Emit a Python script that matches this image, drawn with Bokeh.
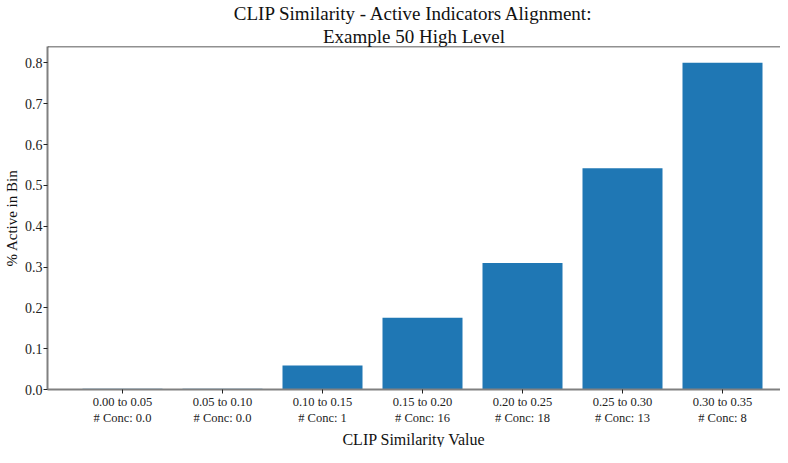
from bokeh.plotting import figure
from bokeh.models import ColumnDataSource, Range1d, FixedTicker, PrintfTickFormatter, Title, Span
from bokeh.embed import file_html
from bokeh.resources import INLINE

# ---- data ----
bin_labels = ["0.00 to 0.05", "0.05 to 0.10", "0.10 to 0.15", "0.15 to 0.20",
              "0.20 to 0.25", "0.25 to 0.30", "0.30 to 0.35"]
conc_counts = ["0.0", "0.0", "1", "16", "18", "13", "8"]
pct_active = [0.002, 0.002, 0.059, 0.176, 0.310, 0.542, 0.800]
y_ticks = [0.0, 0.1, 0.2, 0.3, 0.4, 0.5, 0.6, 0.7, 0.8]

title_line1 = "CLIP Similarity - Active Indicators Alignment:"
title_line2 = "Example 50 High Level"
x_label = "CLIP Similarity Value"
y_label = "% Active in Bin"

FONT = "Liberation Serif"
BAR = "#1f77b4"
Y_MAX = 0.84

xs = list(range(len(bin_labels)))
src = ColumnDataSource(dict(x=xs, top=pct_active))

p = figure(width=780, height=447, output_backend="svg", toolbar_location=None,
           x_range=Range1d(-0.75, 6.58), y_range=Range1d(0, Y_MAX),
           min_border_left=46, min_border_right=0, min_border_top=0, min_border_bottom=0)

p.vbar(x="x", top="top", bottom=0, width=0.8, source=src, color=BAR, line_color=None)

# two centred title lines (added title sits closer to the frame)
p.title.text = title_line1
p.title.align = "center"
p.title.text_font = FONT
p.title.text_font_size = "19px"
p.title.text_font_style = "normal"
p.title.text_color = "#111111"
p.title.standoff = 0
t2 = Title(text=title_line2, align="center", text_font=FONT, text_font_size="19px",
           text_font_style="normal", text_color="#111111", standoff=0)
p.add_layout(t2, "above")

p.xgrid.visible = False
p.ygrid.visible = False
p.outline_line_color = None
top_spine = Span(location=Y_MAX, dimension="width", line_color="#222222", line_width=1.3)
p.add_layout(top_spine)

# x axis
xa = p.xaxis[0]
xa.ticker = FixedTicker(ticks=xs)
xa.major_label_overrides = {i: f"{b}\n# Conc: {c}" for i, (b, c) in enumerate(zip(bin_labels, conc_counts))}
xa.major_label_text_font = FONT
xa.major_label_text_font_size = "12.5px"
xa.major_label_text_color = "#222222"
xa.major_label_standoff = 1
xa.major_tick_out = 4
xa.major_tick_in = 0
xa.minor_tick_out = 0
xa.minor_tick_in = 0
xa.major_tick_line_color = "#222222"
xa.axis_line_color = "#808080"
xa.axis_line_width = 2

# x axis title in the panel below the axis
xt = Title(text=x_label, align="center", text_font=FONT, text_font_size="16px",
           text_font_style="normal", text_color="#111111", standoff=0)
p.add_layout(xt, "below")

# y axis
ya = p.yaxis[0]
ya.ticker = FixedTicker(ticks=y_ticks)
ya.formatter = PrintfTickFormatter(format="%.1f")
ya.major_label_text_font = FONT
ya.major_label_text_font_size = "14px"
ya.major_label_text_color = "#222222"
ya.major_label_standoff = 1
ya.major_tick_out = 4
ya.major_tick_in = 0
ya.minor_tick_out = 0
ya.minor_tick_in = 0
ya.major_tick_line_color = "#222222"
ya.axis_line_color = "#808080"
ya.axis_line_width = 2
ya.axis_label = y_label
ya.axis_label_text_font = FONT
ya.axis_label_text_font_size = "15px"
ya.axis_label_text_font_style = "normal"
ya.axis_label_text_color = "#111111"
ya.axis_label_standoff = 2

open("out.html", "w").write(file_html(p, INLINE))
